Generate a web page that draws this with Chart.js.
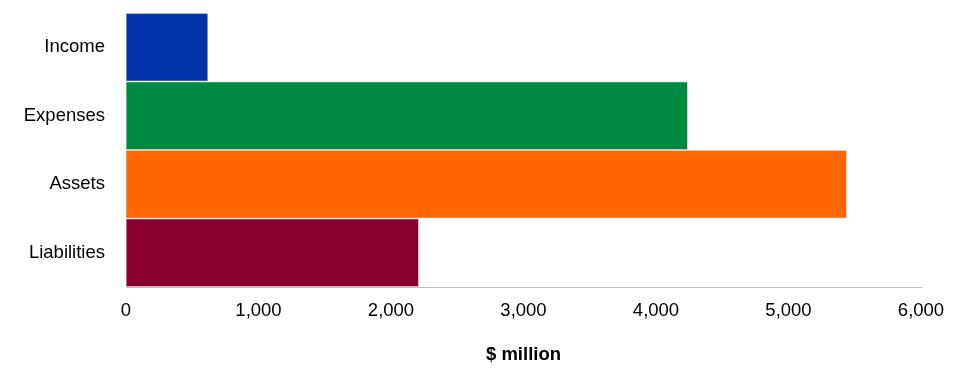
<!DOCTYPE html>
<html>
<head>
<meta charset="utf-8">
<script src="https://cdn.jsdelivr.net/npm/chart.js@4"></script>
<style>
html,body{margin:0;padding:0;background:#fff;}
#wrap{width:967px;height:375px;position:relative;}
</style>
</head>
<body>
<div id="wrap"><canvas id="c" width="967" height="375"></canvas></div>
<script>
const categories = ["Income", "Expenses", "Assets", "Liabilities"];
const values = [620, 4240, 5440, 2210];
const barColors = ["#0033A9", "#008A41", "#FF6600", "#8A002E"];
const xTicks = [0, 1000, 2000, 3000, 4000, 5000, 6000];
const axisTitle = "$ million";

const FONT = "'Liberation Sans', Arial, sans-serif";

new Chart(document.getElementById('c'), {
  type: 'bar',
  data: {
    labels: categories,
    datasets: [{
      data: values,
      backgroundColor: barColors,
      borderColor: '#e8e8ee',
      borderWidth: 1,
      barPercentage: 1,
      categoryPercentage: 1
    }]
  },
  options: {
    indexAxis: 'y',
    responsive: false,
    animation: false,
    devicePixelRatio: 1,
    layout: { padding: { top: 13, right: 46, left: 0, bottom: 0 } },
    plugins: { legend: { display: false }, tooltip: { enabled: false } },
    scales: {
      x: {
        min: 0, max: 6000,
        afterBuildTicks: (s) => { s.ticks = xTicks.map(v => ({ value: v })); },
        afterFit: (s) => { s.height = 88; s.paddingLeft = 0; s.paddingRight = 0; },
        grid: { display: true, drawOnChartArea: false, drawTicks: false, color: '#c0c0c0' },
        border: { display: true, color: '#c0c0c0', width: 1 },
        ticks: {
          color: '#000', padding: 13,
          font: { family: FONT, size: 18.5 },
          callback: (v) => Number(v).toLocaleString('en-US')
        },
        title: {
          display: true, text: axisTitle, color: '#000',
          font: { family: FONT, size: 18.5, weight: 'bold' },
          padding: { top: 4, bottom: 9 }
        }
      },
      y: {
        afterFit: (s) => { s.width = 126; s.paddingTop = 0; s.paddingBottom = 0; },
        grid: { display: false, drawTicks: false },
        border: { display: true, color: '#c0c0c0', width: 1 },
        ticks: {
          color: '#000', padding: 21,
          font: { family: FONT, size: 18.5 }
        }
      }
    }
  }
});
</script>
</body>
</html>
